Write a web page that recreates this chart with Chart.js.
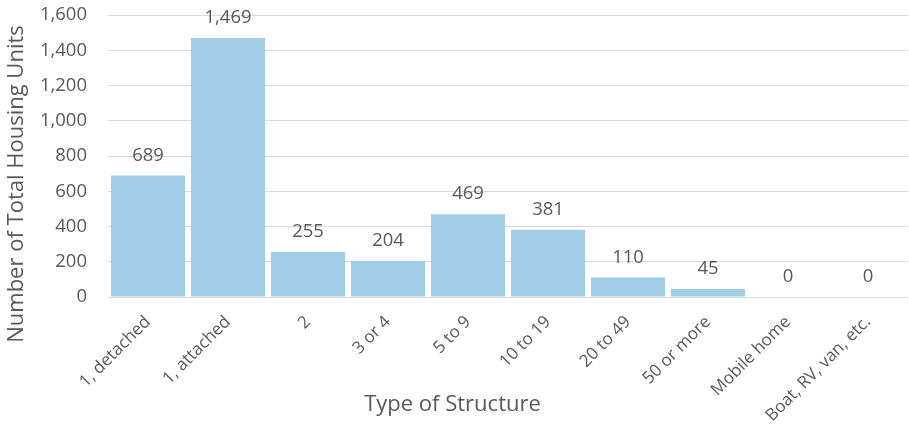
<!DOCTYPE html>
<html>
<head>
<meta charset="utf-8">
<script src="https://cdn.jsdelivr.net/npm/chart.js@4"></script>
<style>
  body { margin: 0; background: #fff; }
</style>
</head>
<body>
<canvas id="housingChart" width="909" height="424"></canvas>
<script>
// categories and values
const structureTypes = ['1, detached', '1, attached', '2', '3 or 4', '5 to 9', '10 to 19', '20 to 49', '50 or more', 'Mobile home', 'Boat, RV, van, etc.'];
const housingUnits = [689, 1469, 255, 204, 469, 381, 110, 45, 0, 0];
const yTicks = [0, 200, 400, 600, 800, 1000, 1200, 1400, 1600];
const xTitle = 'Type of Structure';
const yTitle = 'Number of Total Housing Units';

const textColor = '#595959';
const fontFamily = '"Open Sans", "Noto Sans", sans-serif';

// value above each bar, plus the two axis titles (the original centres them on the canvas, not the plot)
const labelsPlugin = {
  id: 'labelsPlugin',
  afterDatasetsDraw(chart) {
    const ctx = chart.ctx;
    const meta = chart.getDatasetMeta(0);
    ctx.save();
    ctx.fillStyle = textColor;
    ctx.font = '18.5px ' + fontFamily;
    ctx.textAlign = 'center';
    ctx.textBaseline = 'alphabetic';
    meta.data.forEach((bar, i) => {
      ctx.fillText(housingUnits[i].toLocaleString('en-US'), bar.x, bar.y - 15);
    });

    ctx.font = '22px ' + fontFamily;
    ctx.textBaseline = 'middle';
    ctx.fillText(xTitle, chart.width / 2 - 2, 405);

    ctx.translate(17, 184);
    ctx.rotate(-Math.PI / 2);
    ctx.fillText(yTitle, 0, 0);
    ctx.restore();
  }
};

const ctx = document.getElementById('housingChart').getContext('2d');
new Chart(ctx, {
  type: 'bar',
  data: {
    labels: structureTypes,
    datasets: [{
      data: housingUnits,
      backgroundColor: '#9fcde8',
      barPercentage: 0.925,
      categoryPercentage: 1.0,
    }],
  },
  options: {
    responsive: false,
    animation: false,
    layout: { padding: { top: 15, right: 1, left: 0, bottom: 0 } },
    plugins: {
      legend: { display: false },
      tooltip: { enabled: false },
    },
    scales: {
      x: {
        grid: { display: false },
        border: { display: false },
        ticks: {
          color: textColor,
          font: { family: fontFamily, size: 17 },
          maxRotation: 45,
          minRotation: 45,
          autoSkip: false,
          padding: 7,
        },
        afterFit(scale) { scale.height = 127; },
      },
      y: {
        min: 0,
        max: 1600,
        afterBuildTicks(scale) { scale.ticks = yTicks.map(v => ({ value: v })); },
        grid: { color: '#d9d9d9', drawTicks: false },
        border: { display: false },
        ticks: {
          color: textColor,
          font: { family: fontFamily, size: 18.5 },
          padding: 21,
          callback: v => v.toLocaleString('en-US'),
        },
        afterFit(scale) {
          scale.width = 108;
          scale.paddingTop = 0;
          scale.paddingBottom = 0;
        },
      },
    },
  },
  plugins: [labelsPlugin],
});
</script>
</body>
</html>
